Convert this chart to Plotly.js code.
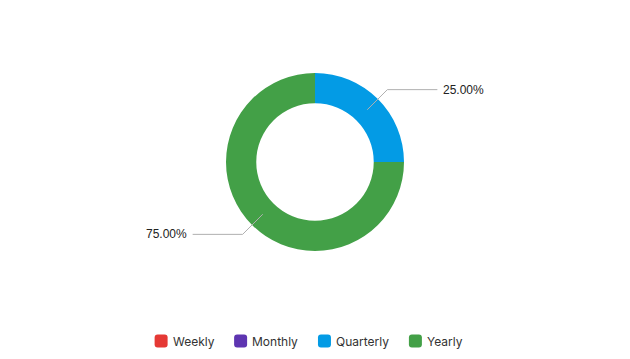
<!DOCTYPE html>
<html><head><meta charset="utf-8">
<script src="https://cdn.plot.ly/plotly-3.0.1.min.js"></script>
<style>html,body{margin:0;padding:0;background:#fff}</style>
</head><body><div id="chart" style="width:630px;height:359px"></div>
<script>
const categories = ["Weekly", "Monthly", "Quarterly", "Yearly"];
const values = [0, 0, 25, 75];
const colors = ["#E53935", "#5E35B1", "#039BE5", "#43A047"];

const W = 630, H = 359;
const cx = 315, cy = 162, rOut = 89, hole = 0.66;
const rIn = rOut * hole;

const total = values.reduce((a, b) => a + b, 0);
const shapes = [], annotations = [];
let cum = 0;
const px = x => x / W, py = y => 1 - y / H;
values.forEach((v, i) => {
  const frac = v / total;
  const mid = (cum + frac / 2) * 2 * Math.PI; // clockwise from top
  cum += frac;
  if (v <= 0) return;
  const sx = Math.sin(mid), sy = -Math.cos(mid);
  const rm = (rOut + rIn) / 2, re = rOut * 1.15;
  const x0 = cx + sx * rm, y0 = cy + sy * rm;
  const x1 = cx + sx * re, y1 = cy + sy * re;
  const dir = sx >= 0 ? 1 : -1;
  const x2 = x1 + dir * 50;
  shapes.push({type: "path", xref: "paper", yref: "paper",
    path: `M${px(x0)},${py(y0)} L${px(x1)},${py(y1)} L${px(x2)},${py(y1)}`,
    line: {color: "#b0b0b0", width: 1}});
  annotations.push({xref: "paper", yref: "paper", x: px(x2 + dir * 4), y: py(y1),
    xanchor: dir > 0 ? "left" : "right", yanchor: "middle", showarrow: false,
    text: (frac * 100).toFixed(2) + "%",
    font: {family: "Liberation Sans, Arial, sans-serif", size: 12, color: "#222"}});
});

// custom legend (rounded swatches)
const legFont = "Inter, Roboto, sans-serif";
const ctx = document.createElement("canvas").getContext("2d");
ctx.font = "12px Inter";
const sw = 13, gapText = 4, gapItem = 21, legY = 341, legCenter = 308;
const widths = categories.map(c => ctx.measureText(c).width);
const totalW = widths.reduce((a, w) => a + sw + gapText + w, 0) + gapItem * (categories.length - 1);
let lx = legCenter - totalW / 2;
const r = 3, h = sw / 2;
const rr = `M${-h + r},${-h} L${h - r},${-h} Q${h},${-h} ${h},${-h + r} L${h},${h - r} Q${h},${h} ${h - r},${h} L${-h + r},${h} Q${-h},${h} ${-h},${h - r} L${-h},${-h + r} Q${-h},${-h} ${-h + r},${-h} Z`;
categories.forEach((c, i) => {
  shapes.push({type: "path", xref: "paper", yref: "paper", xsizemode: "pixel", ysizemode: "pixel",
    xanchor: px(lx + h), yanchor: py(legY), path: rr,
    fillcolor: colors[i], line: {width: 0}});
  annotations.push({xref: "paper", yref: "paper", x: px(lx + sw + gapText - 1), y: py(legY),
    xanchor: "left", yanchor: "middle", showarrow: false, text: c,
    font: {family: legFont, size: 12, color: "#333"}});
  lx += sw + gapText + widths[i] + gapItem;
});

const data = [{
  type: "pie", labels: categories, values: values, hole: hole,
  sort: false, direction: "clockwise", rotation: 0,
  marker: {colors: colors, line: {width: 0}},
  textinfo: "none", hoverinfo: "label+percent", showlegend: false,
  domain: {x: [(cx - rOut) / W, (cx + rOut) / W], y: [1 - (cy + rOut) / H, 1 - (cy - rOut) / H]}
}];
const layout = {
  width: W, height: H, margin: {l: 0, r: 0, t: 0, b: 0},
  paper_bgcolor: "#fff", showlegend: false,
  shapes: shapes, annotations: annotations
};
Plotly.newPlot("chart", data, layout, {displayModeBar: false, staticPlot: true});
</script></body></html>
